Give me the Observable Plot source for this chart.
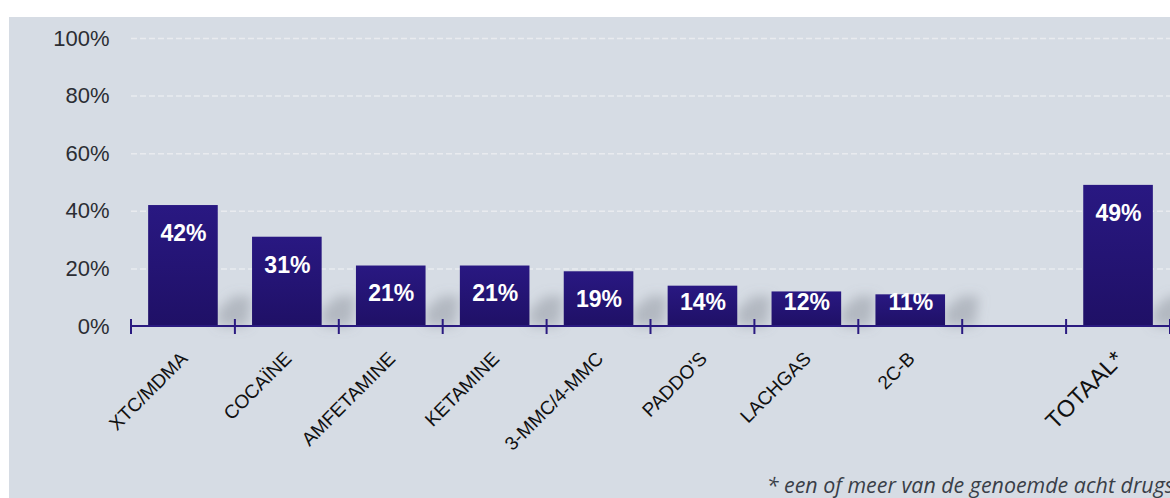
<!DOCTYPE html>
<html><head><meta charset="utf-8">
<script src="https://cdn.jsdelivr.net/npm/d3@7"></script>
<script src="https://cdn.jsdelivr.net/npm/@observablehq/plot@0.6"></script>
<style>
body{margin:0;background:#fff;width:1170px;height:498px;overflow:hidden;font-family:"Liberation Sans",Arial,sans-serif;position:relative}
#panel{position:absolute;left:9px;top:17px;width:1161px;height:481px;background:#d6dce4;overflow:hidden}
#note{position:absolute;right:-4px;top:457px;line-height:22px;font-family:"Open Sans",sans-serif;font-style:italic;font-size:21.4px;color:#3a3f48;white-space:nowrap}
</style></head><body>
<div id="panel"><div id="chart"></div><div id="note">* een of meer van de genoemde acht drugs</div></div>
<script>
const categories = ["XTC/MDMA","COCAÏNE","AMFETAMINE","KETAMINE","3-MMC/4-MMC","PADDO'S","LACHGAS","2C-B"," ","TOTAAL*"];
const values = [42,31,21,21,19,14,12,11,null,49];
const yTicks = [0,20,40,60,80,100];
const gridTicks = [20,40,60,80,100];

const data = categories.map((c,i)=>({cat:c, value:values[i]})).filter(d=>d.value!=null);

const navy = "#2a1a80";
const labelFloor = 18; // value labels never sink below this level

function defs() {
  const d = d3.create("svg:defs");
  const g = d.append("linearGradient").attr("id","barGrad").attr("x1",0).attr("x2",0).attr("y1",0).attr("y2",1);
  g.append("stop").attr("offset","0%").attr("stop-color","#291882");
  g.append("stop").attr("offset","100%").attr("stop-color","#1f1066");
  const f = d.append("filter").attr("id","shadowBlur").attr("x","-50%").attr("y","-50%").attr("width","200%").attr("height","200%");
  f.append("feGaussianBlur").attr("stdDeviation",6);
  return d.node();
}

function shadows(index, scales) {
  const x = scales.x, y = scales.y;
  const g = d3.create("svg:g").attr("filter","url(#shadowBlur)");
  const y0 = y(0);
  for (const d of data) {
    const xr = x(d.cat) + x.bandwidth();
    g.append("path")
      .attr("d", `M${xr},${y0}L${xr},${y0-16}L${xr+16},${y0-30}L${xr+34},${y0-30}L${xr+30},${y0}Z`)
      .attr("fill","#7c828c").attr("fill-opacity",0.4);
  }
  return g.node();
}

function baseAxis(index, scales, values, dims) {
  const x = scales.x, y = scales.y;
  const step = x.step(), pi = x.paddingInner();
  const g = d3.create("svg:g").attr("stroke", navy).attr("stroke-width", 2);
  const y0 = y(0);
  const left = dims.marginLeft, right = dims.width - dims.marginRight;
  g.append("line").attr("x1", left).attr("x2", right).attr("y1", y0).attr("y2", y0);
  const bounds = categories.map(c => x(c) - pi * step / 2);
  bounds.push(x(categories[categories.length-1]) + x.bandwidth() + pi * step / 2);
  for (const b of bounds) {
    g.append("line").attr("x1", b).attr("x2", b).attr("y1", y0 - 7).attr("y2", y0 + 8);
  }
  return g.node();
}

const chart = Plot.plot({
  width: 1161,
  height: 430,
  marginLeft: 122,
  marginRight: 0,
  marginTop: 21,
  marginBottom: 121,
  style: {background: "transparent", fontFamily: "'Liberation Sans', Arial, sans-serif", overflow: "visible"},
  x: {domain: categories, paddingInner: 0.33, paddingOuter: 0.165, round: false, axis: null},
  y: {domain: [0, 100]},
  marks: [
    defs,
    Plot.gridY(gridTicks, {stroke: "#e9ebef", strokeOpacity: 1, strokeWidth: 1.5, strokeDasharray: "6,3"}),
    Plot.axisY(yTicks, {tickSize: 0, tickPadding: 22, tickFormat: d => d + "%", fontSize: 22, fill: "#2b2d33", label: null}),
    shadows,
    Plot.barY(data, {x: "cat", y: "value", fill: "url(#barGrad)"}),
    baseAxis,
    Plot.text(data, {x: "cat", y: d => Math.max(d.value, labelFloor), text: d => d.value + "%", dy: 28, fill: "white", fontWeight: "bold", fontSize: 23}),
    Plot.text(categories.filter(c => c.trim() !== ""), {
      x: d => d, y: () => 0, text: d => d,
      rotate: -45, textAnchor: "end", lineAnchor: "middle",
      dx: 1, dy: 29,
      fontSize: d => d === "TOTAAL*" ? 23.5 : 19,
      fill: "#111"
    })
  ]
});
document.getElementById("chart").appendChild(chart);
</script>
</body></html>
